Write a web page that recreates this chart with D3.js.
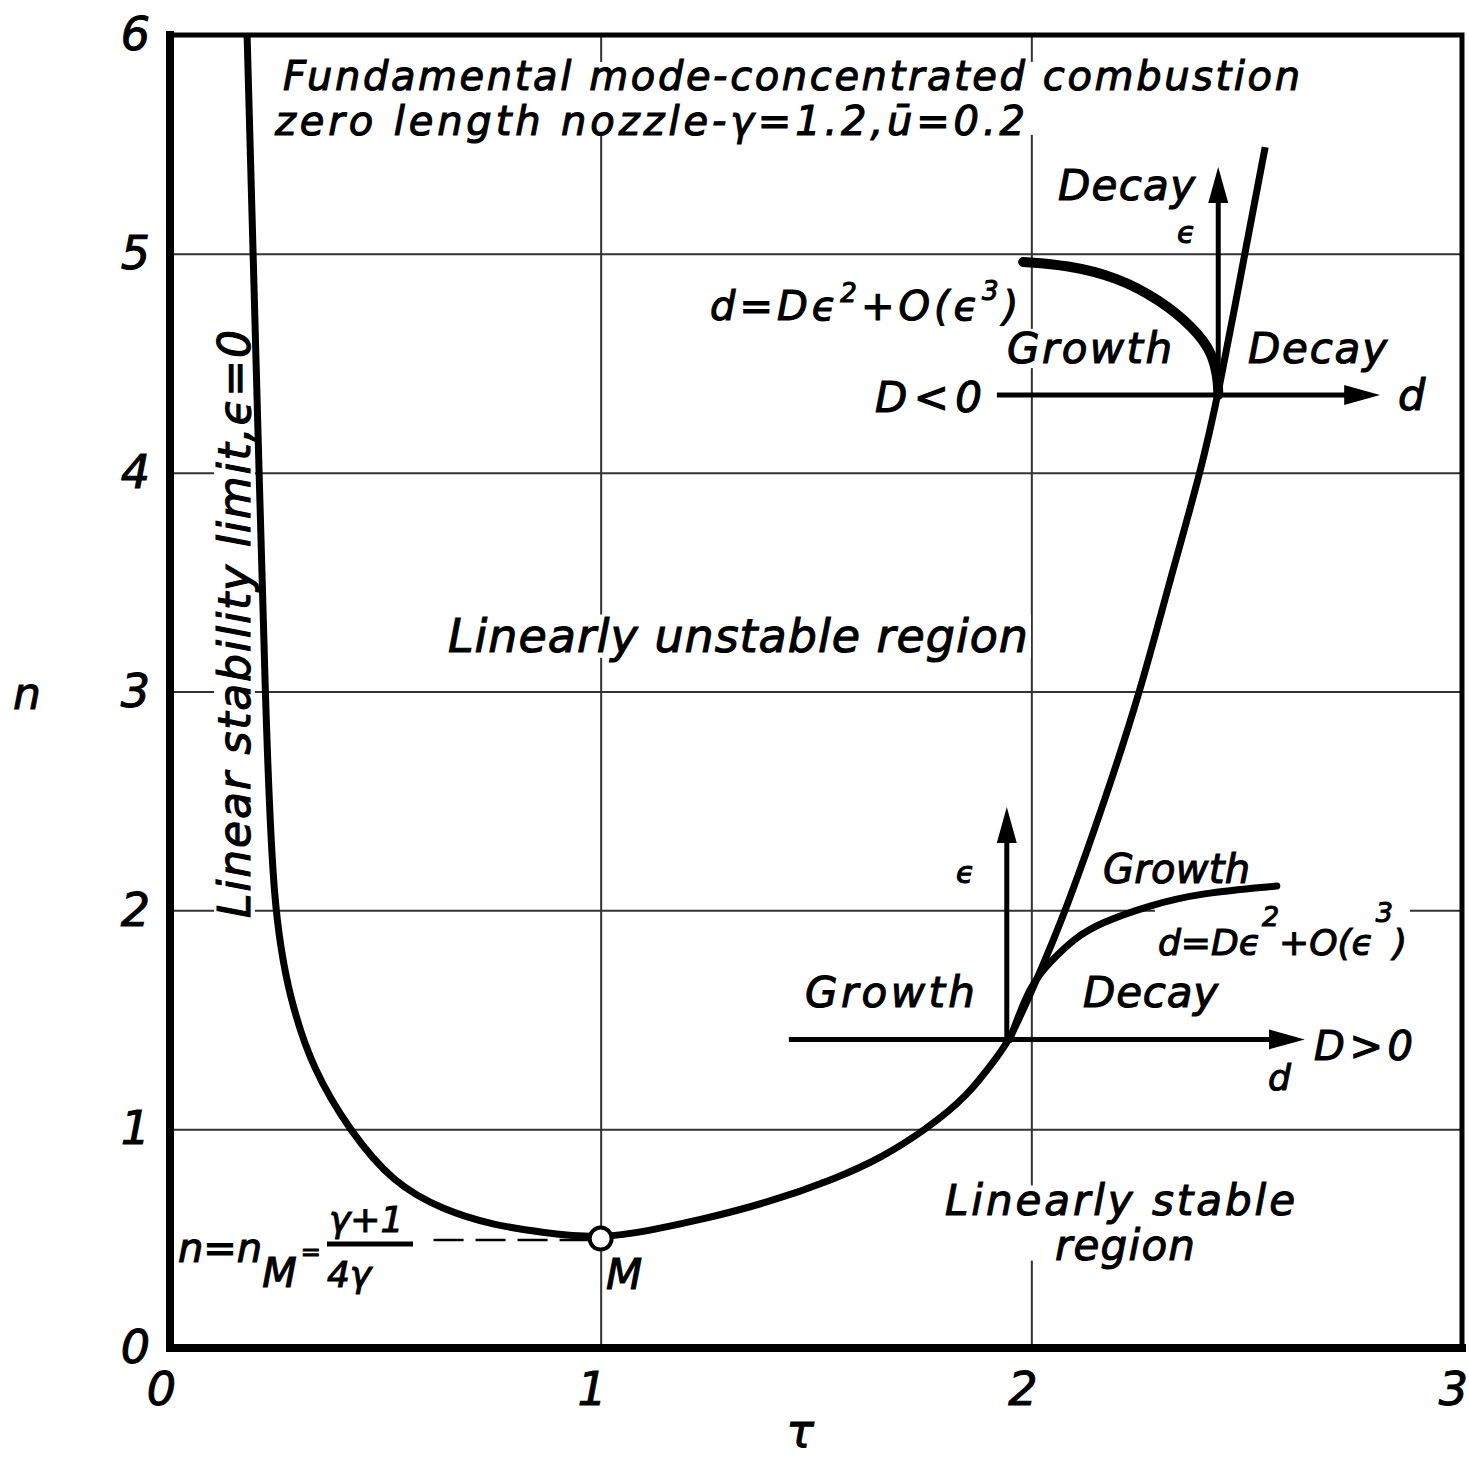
<!DOCTYPE html>
<html>
<head>
<meta charset="utf-8">
<script src="https://cdn.jsdelivr.net/npm/d3@7/dist/d3.min.js"></script>
<style>
  body { margin: 0; background: #fff; }
  svg { display: block; }
  text { font-family: "DejaVu Sans", sans-serif; font-style: italic; }
</style>
</head>
<body>
<script>
	// Stability boundary n(tau)
	var boundaryTau = [0.179, 0.193, 0.207, 0.221, 0.239, 0.279, 0.330, 0.418, 0.518, 0.634, 0.750, 0.866, 1.000,
	                   1.110, 1.231, 1.386, 1.539, 1.656, 1.753, 1.851, 1.927, 1.950, 2.010, 2.080, 2.171, 2.252,
	                   2.322, 2.392, 2.434, 2.496, 2.543];
	var boundaryN   = [6.000, 5.000, 3.990, 2.990, 1.990, 1.590, 1.280, 0.990, 0.754, 0.631, 0.562, 0.526, 0.500,
	                   0.535, 0.585, 0.663, 0.768, 0.873, 0.996, 1.147, 1.348, 1.410, 1.670, 1.997, 2.504, 2.993,
	                   3.510, 3.994, 4.355, 5.004, 5.488];

	// d = D eps^2 + O(eps^3) branches
	var upperBranchTau = [2.434, 2.434, 2.422, 2.375, 2.299, 2.199, 2.083, 1.981];
	var upperBranchN   = [4.355, 4.410, 4.547, 4.666, 4.789, 4.894, 4.949, 4.963];
	var lowerBranchTau = [1.950, 1.997, 2.043, 2.101, 2.159, 2.276, 2.392, 2.570];
	var lowerBranchN   = [1.410, 1.659, 1.764, 1.874, 1.942, 2.024, 2.079, 2.111];

	// minimum point M and n_M level
	var pointM = [1.0, 0.5];
	var nMLevel = 0.4935;
	var nMDash = [0.612, 0.975];

	// little (d, eps) axes at the two bifurcation points: [start, end]
	var dAxes   = [[[1.920, 4.355], [2.810, 4.355]], [[1.437, 1.410], [2.635, 1.410]]];
	var epsAxes = [[[2.434, 4.355], [2.434, 5.397]], [[1.943, 1.410], [1.943, 2.472]]];

	var xTicks = [0, 1, 2, 3];
	var yTicks = [0, 1, 2, 3, 4, 5, 6];

	// Margens
	var margin = {top: 35, right: 7, bottom: 111, left: 170};
	var width = 1469 - margin.left - margin.right;
	var height = 1459 - margin.top - margin.bottom;

	var x = d3.scaleLinear().domain([0, 3]).range([0, width]);
	var y = d3.scaleLinear().domain([0, 6]).range([height, 0]);

	var svg = d3.select("body").append("svg")
		.attr("width", 1469)
		.attr("height", 1459);

	svg.append("defs").append("marker")
		.attr("id", "head")
		.attr("markerUnits", "userSpaceOnUse")
		.attr("viewBox", "0 -12 36 24")
		.attr("markerWidth", 36)
		.attr("markerHeight", 24)
		.attr("refX", 18)
		.attr("refY", 0)
		.attr("orient", "auto")
		.append("path")
		.attr("d", "M0,-10L36,0L0,10Z")
		.attr("fill", "#000");

	var g = svg.append("g")
		.attr("transform", "translate(" + margin.left + "," + margin.top + ")");

	// Eixos + grade
	var xAxisGroup = g.append("g")
		.attr("transform", "translate(0," + height + ")")
		.call(d3.axisBottom(x).tickValues(xTicks).tickSize(-height).tickPadding(24).tickFormat(d3.format("d")));
	var yAxisGroup = g.append("g")
		.call(d3.axisLeft(y).tickValues(yTicks).tickSize(-width).tickPadding(20).tickFormat(d3.format("d")));

	[xAxisGroup, yAxisGroup].forEach(function(ax) {
		ax.select(".domain").remove();
		ax.selectAll(".tick line").attr("stroke", "#333").attr("stroke-width", 2);
		ax.selectAll(".tick text")
			.attr("font-family", "DejaVu Sans, sans-serif")
			.attr("font-size", 46)
			.attr("font-style", "italic")
			.attr("fill", "#000")
			.attr("stroke", "#000")
			.attr("stroke-width", 1);
	});
	xAxisGroup.selectAll(".tick text").attr("dx", -9);

	var haloLayer = g.append("g");
	var markLayer = g.append("g");
	var textLayer = g.append("g").attr("fill", "#000").attr("stroke", "#000").attr("stroke-width", 1.1);

	// Curvas
	var curve = d3.line()
		.x(function(d) { return x(d[0]); })
		.y(function(d) { return y(d[1]); })
		.curve(d3.curveBasis);

	markLayer.append("path")
		.datum(d3.zip(boundaryTau, boundaryN))
		.attr("fill", "none").attr("stroke", "#000").attr("stroke-width", 7)
		.attr("stroke-linejoin", "round")
		.attr("d", curve);
	markLayer.append("path")
		.datum(d3.zip(upperBranchTau, upperBranchN))
		.attr("fill", "none").attr("stroke", "#000").attr("stroke-width", 10)
		.attr("stroke-linecap", "round")
		.attr("d", curve);
	markLayer.append("path")
		.datum(d3.zip(lowerBranchTau, lowerBranchN))
		.attr("fill", "none").attr("stroke", "#000").attr("stroke-width", 7)
		.attr("stroke-linecap", "round")
		.attr("d", curve);

	// Setas
	function arrow(p0, p1) {
		var x0 = x(p0[0]), y0 = y(p0[1]), x1 = x(p1[0]), y1 = y(p1[1]);
		var L = Math.hypot(x1 - x0, y1 - y0);
		markLayer.append("line")
			.attr("x1", x0).attr("y1", y0)
			.attr("x2", x1 - (x1 - x0) / L * 18).attr("y2", y1 - (y1 - y0) / L * 18)
			.attr("stroke", "#000").attr("stroke-width", 5)
			.attr("marker-end", "url(#head)");
	}
	dAxes.forEach(function(a) { arrow(a[0], a[1]); });
	epsAxes.forEach(function(a) { arrow(a[0], a[1]); });

	// n_M tracejado e ponto M
	markLayer.append("line")
		.attr("x1", x(nMDash[0])).attr("x2", x(nMDash[1]))
		.attr("y1", y(nMLevel)).attr("y2", y(nMLevel))
		.attr("stroke", "#000").attr("stroke-width", 2.5)
		.attr("stroke-dasharray", "30,12");
	markLayer.append("circle")
		.attr("cx", x(pointM[0])).attr("cy", y(pointM[1]))
		.attr("r", 11)
		.attr("fill", "#fff").attr("stroke", "#000").attr("stroke-width", 4);

	// Moldura
	g.append("path")
		.attr("d", "M0,0H" + width + "V" + height)
		.attr("fill", "none").attr("stroke", "#000").attr("stroke-width", 5).attr("stroke-linecap", "square");
	g.append("path")
		.attr("d", "M0,0V" + height + "H" + width)
		.attr("fill", "none").attr("stroke", "#000").attr("stroke-width", 8).attr("stroke-linecap", "square");

	// Textos: each label is one <text>, lines are tspans placed in (tau, n)
	var labels = [
		{size: 40, lines: [
			{t: "Fundamental mode-concentrated combustion", at: [0.2624, 5.7497], len: 1017},
			{t: "zero length nozzle-\u03b3=1.2,\u016b=0.2", at: [0.2438, 5.5431], len: 750}]},
		{size: 44, rot: -90, at: [0.1858, 1.9650], lines: [{t: "Linear stability limit,\u03f5=0", len: 588}]},
		{size: 46, lines: [{t: "Linearly unstable region", at: [0.6455, 3.1797], len: 580}]},
		{size: 42, lines: [
			{t: "Linearly stable", at: [1.7995, 0.6078], len: 350},
			{t: "region", at: [2.0549, 0.4021], len: 140}]},
		{size: 42, lines: [{t: "Decay", at: [2.0619, 5.2461], len: 137}]},
		{size: 30, lines: [{t: "\u03f5", at: [2.3382, 5.0496]}]},
		{size: 42, lines: [{t: "Growth", at: [1.9435, 4.5012], len: 165}]},
		{size: 42, lines: [{t: "Decay", at: [2.5031, 4.5012], len: 139}]},
		{size: 43, lines: [{t: "d", at: [2.8514, 4.2864]}]},
		{size: 42, lines: [{t: "D<0", at: [1.6370, 4.2773], len: 107}]},
		{size: 30, lines: [{t: "\u03f5", at: [1.8251, 2.1249]}]},
		{size: 40, lines: [{t: "Growth", at: [2.1664, 2.1249], len: 147}]},
		{size: 42, lines: [{t: "Growth", at: [1.4744, 1.5583], len: 170}]},
		{size: 42, lines: [{t: "Decay", at: [2.1200, 1.5583], len: 135}]},
		{size: 40, lines: [{t: "D>0", at: [2.6563, 1.3161], len: 99}]},
		{size: 36, lines: [{t: "d", at: [2.5495, 1.1790]}]},
		{size: 42, lines: [{t: "M", at: [1.0124, 0.2696]}]}
	];

	// formulas: runs of text with shifts; a run with "at" starts a new position
	var formulas = [
		{size: 40, ls: 4, runs: [
			{t: "d=D\u03f5", at: [1.2539, 4.6977]}, {t: "2", dy: -18, s: 0.65}, {t: "+O(\u03f5", dy: 18},
			{t: "3", dy: -20, s: 0.65}, {t: ")", dy: 20}]},
		{size: 36, ls: 0, runs: [
			{t: "d=D\u03f5", at: [2.2941, 1.7959]}, {t: "2", dy: -29, dx: 1, s: 0.75}, {t: "+O(\u03f5", dy: 29},
			{t: "3", dy: -33, dx: 2, s: 0.75}, {t: ")", dy: 33}]},
		{size: 40, ls: 0, runs: [
			{t: "n=n", at: [0.0186, 0.3930]}, {t: "M", dy: 25}, {t: "=", dy: -27, dx: 4, s: 0.6},
			{t: "\u03b3+1", at: [0.3692, 0.5301], s: 0.9}, {t: "4\u03b3", at: [0.3645, 0.2788], s: 0.9}]}
	];

	labels.forEach(function(l) {
		var t = textLayer.append("text").attr("font-size", l.size);
		if (l.rot) t.attr("transform", "translate(" + x(l.at[0]) + "," + y(l.at[1]) + ") rotate(" + l.rot + ")");
		l.lines.forEach(function(ln) {
			var s = t.append("tspan").text(ln.t);
			if (ln.at) s.attr("x", x(ln.at[0])).attr("y", y(ln.at[1]));
			else s.attr("x", 0).attr("y", 0);
			if (ln.len) s.attr("textLength", ln.len).attr("lengthAdjust", "spacing");
		});
	});

	formulas.forEach(function(f) {
		var t = textLayer.append("text")
			.attr("font-size", f.size)
			.attr("letter-spacing", f.ls);
		f.runs.forEach(function(r) {
			var s = t.append("tspan").text(r.t).attr("font-size", f.size * (r.s || 1));
			if (r.at) s.attr("x", x(r.at[0])).attr("y", y(r.at[1]));
			if (r.dy) s.attr("dy", r.dy);
			if (r.dx) s.attr("dx", r.dx);
		});
	});

	// fraction bar under gamma+1
	textLayer.append("line")
		.attr("x1", x(0.3645)).attr("x2", x(0.5642))
		.attr("y1", y(0.4753)).attr("y2", y(0.4753))
		.attr("stroke-width", 5);

	// white boxes behind the labels break the grid lines, as in the drawing
	textLayer.selectAll("text").each(function() {
		var b = this.getBBox();
		haloLayer.append("rect")
			.attr("transform", this.getAttribute("transform"))
			.attr("x", b.x - 3).attr("y", b.y + b.height * 0.1)
			.attr("width", b.width + 6).attr("height", b.height * 0.8)
			.attr("fill", "#fff");
	});

	// Titulos dos eixos
	g.append("text")
		.attr("x", -157).attr("y", y(3) + 17)
		.attr("font-size", 44)
		.attr("stroke", "#000").attr("stroke-width", 1)
		.text("n");
	g.append("text")
		.attr("x", x(1.5) - 16).attr("y", height + 99)
		.attr("text-anchor", "middle")
		.attr("font-size", 46)
		.attr("stroke", "#000").attr("stroke-width", 1)
		.text("\u03c4");
</script>
</body>
</html>
